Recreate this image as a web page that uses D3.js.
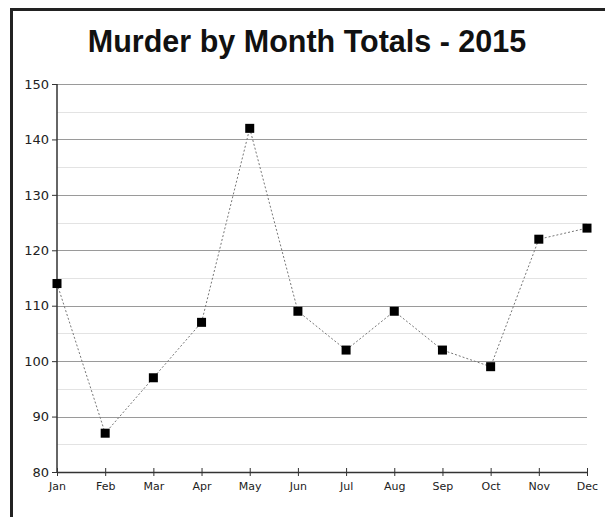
<!DOCTYPE html>
<html>
<head>
<meta charset="utf-8">
<script src="https://cdn.jsdelivr.net/npm/d3@7"></script>
<style>
  body { margin: 0; background: #fff; }
  svg { display: block; }
</style>
</head>
<body>
<div id="chart"></div>
<script>
// datos del grafico
const months = ['Jan', 'Feb', 'Mar', 'Apr', 'May', 'Jun', 'Jul', 'Aug', 'Sep', 'Oct', 'Nov', 'Dec'];
const murders = [114, 87, 97, 107, 142, 109, 102, 109, 102, 99, 122, 124];
const yTicks = [80, 90, 100, 110, 120, 130, 140, 150];
const yMinorTicks = [85, 95, 105, 115, 125, 135, 145];
const title = 'Murder by Month Totals - 2015';

var width = 605;
var height = 517;
var margin = { top: 84, right: 18, bottom: 45, left: 57 };
var innerW = width - margin.left - margin.right;
var innerH = height - margin.top - margin.bottom;

var svg = d3.select('#chart').append('svg')
    .attr('width', width)
    .attr('height', height);

// marco
svg.append('path')
    .attr('d', 'M11.5,' + height + ' L11.5,9.5 L' + width + ',9.5')
    .attr('fill', 'none')
    .attr('stroke', '#222')
    .attr('stroke-width', 3);

svg.append('text')
    .attr('x', 307)
    .attr('y', 52)
    .attr('text-anchor', 'middle')
    .style('font-family', '"Liberation Sans", Arial, sans-serif')
    .style('font-weight', 'bold')
    .style('font-size', '30.5px')
    .style('fill', '#111')
    .text(title);

var g = svg.append('g')
    .attr('transform', 'translate(' + margin.left + ',' + margin.top + ')');

var x = d3.scalePoint()
    .domain(months)
    .range([0, innerW]);

var y = d3.scaleLinear()
    .domain([80, 150])
    .range([innerH, 0]);

// lineas de cuadricula
g.selectAll('.minor')
    .data(yMinorTicks)
    .enter().append('line')
    .attr('x1', 0).attr('x2', innerW)
    .attr('y1', d => Math.round(y(d)) + 0.5)
    .attr('y2', d => Math.round(y(d)) + 0.5)
    .attr('stroke', '#e3e3e3');

g.selectAll('.major')
    .data(yTicks.slice(1))
    .enter().append('line')
    .attr('x1', 0).attr('x2', innerW)
    .attr('y1', d => Math.round(y(d)) + 0.5)
    .attr('y2', d => Math.round(y(d)) + 0.5)
    .attr('stroke', '#9a9a9a');

// eje y
var yAxis = g.append('g')
    .call(d3.axisLeft(y).tickValues(yTicks).tickSize(5).tickPadding(3));
yAxis.select('.domain').attr('stroke', '#333').attr('stroke-width', 1.5).attr('d', 'M0,' + innerH + 'V0');
yAxis.selectAll('.tick line').attr('stroke', '#333');
yAxis.selectAll('text')
    .style('font-family', '"DejaVu Sans", Verdana, sans-serif')
    .style('font-size', '13px')
    .style('fill', '#222');

// eje x
var xAxis = g.append('g')
    .attr('transform', 'translate(0,' + innerH + ')')
    .call(d3.axisBottom(x).tickSize(0).tickPadding(10));
xAxis.select('.domain').attr('stroke', '#333').attr('stroke-width', 1.5);
xAxis.selectAll('.tick line').remove();
xAxis.selectAll('.tick').append('line')
    .attr('y1', -4).attr('y2', 4)
    .attr('stroke', '#333');
xAxis.selectAll('text')
    .style('font-family', '"DejaVu Sans", Verdana, sans-serif')
    .style('font-size', '11px')
    .style('fill', '#222');

// linea punteada
var line = d3.line()
    .x((d, i) => x(months[i]))
    .y(d => y(d));

g.append('path')
    .datum(murders)
    .attr('d', line)
    .attr('fill', 'none')
    .attr('stroke', '#777')
    .attr('stroke-width', 1)
    .attr('stroke-dasharray', '2,2');

// marcadores
g.selectAll('.marker')
    .data(murders)
    .enter().append('rect')
    .attr('x', (d, i) => x(months[i]) - 4.5)
    .attr('y', d => y(d) - 4.5)
    .attr('width', 9)
    .attr('height', 9)
    .attr('fill', '#000');
</script>
</body>
</html>
